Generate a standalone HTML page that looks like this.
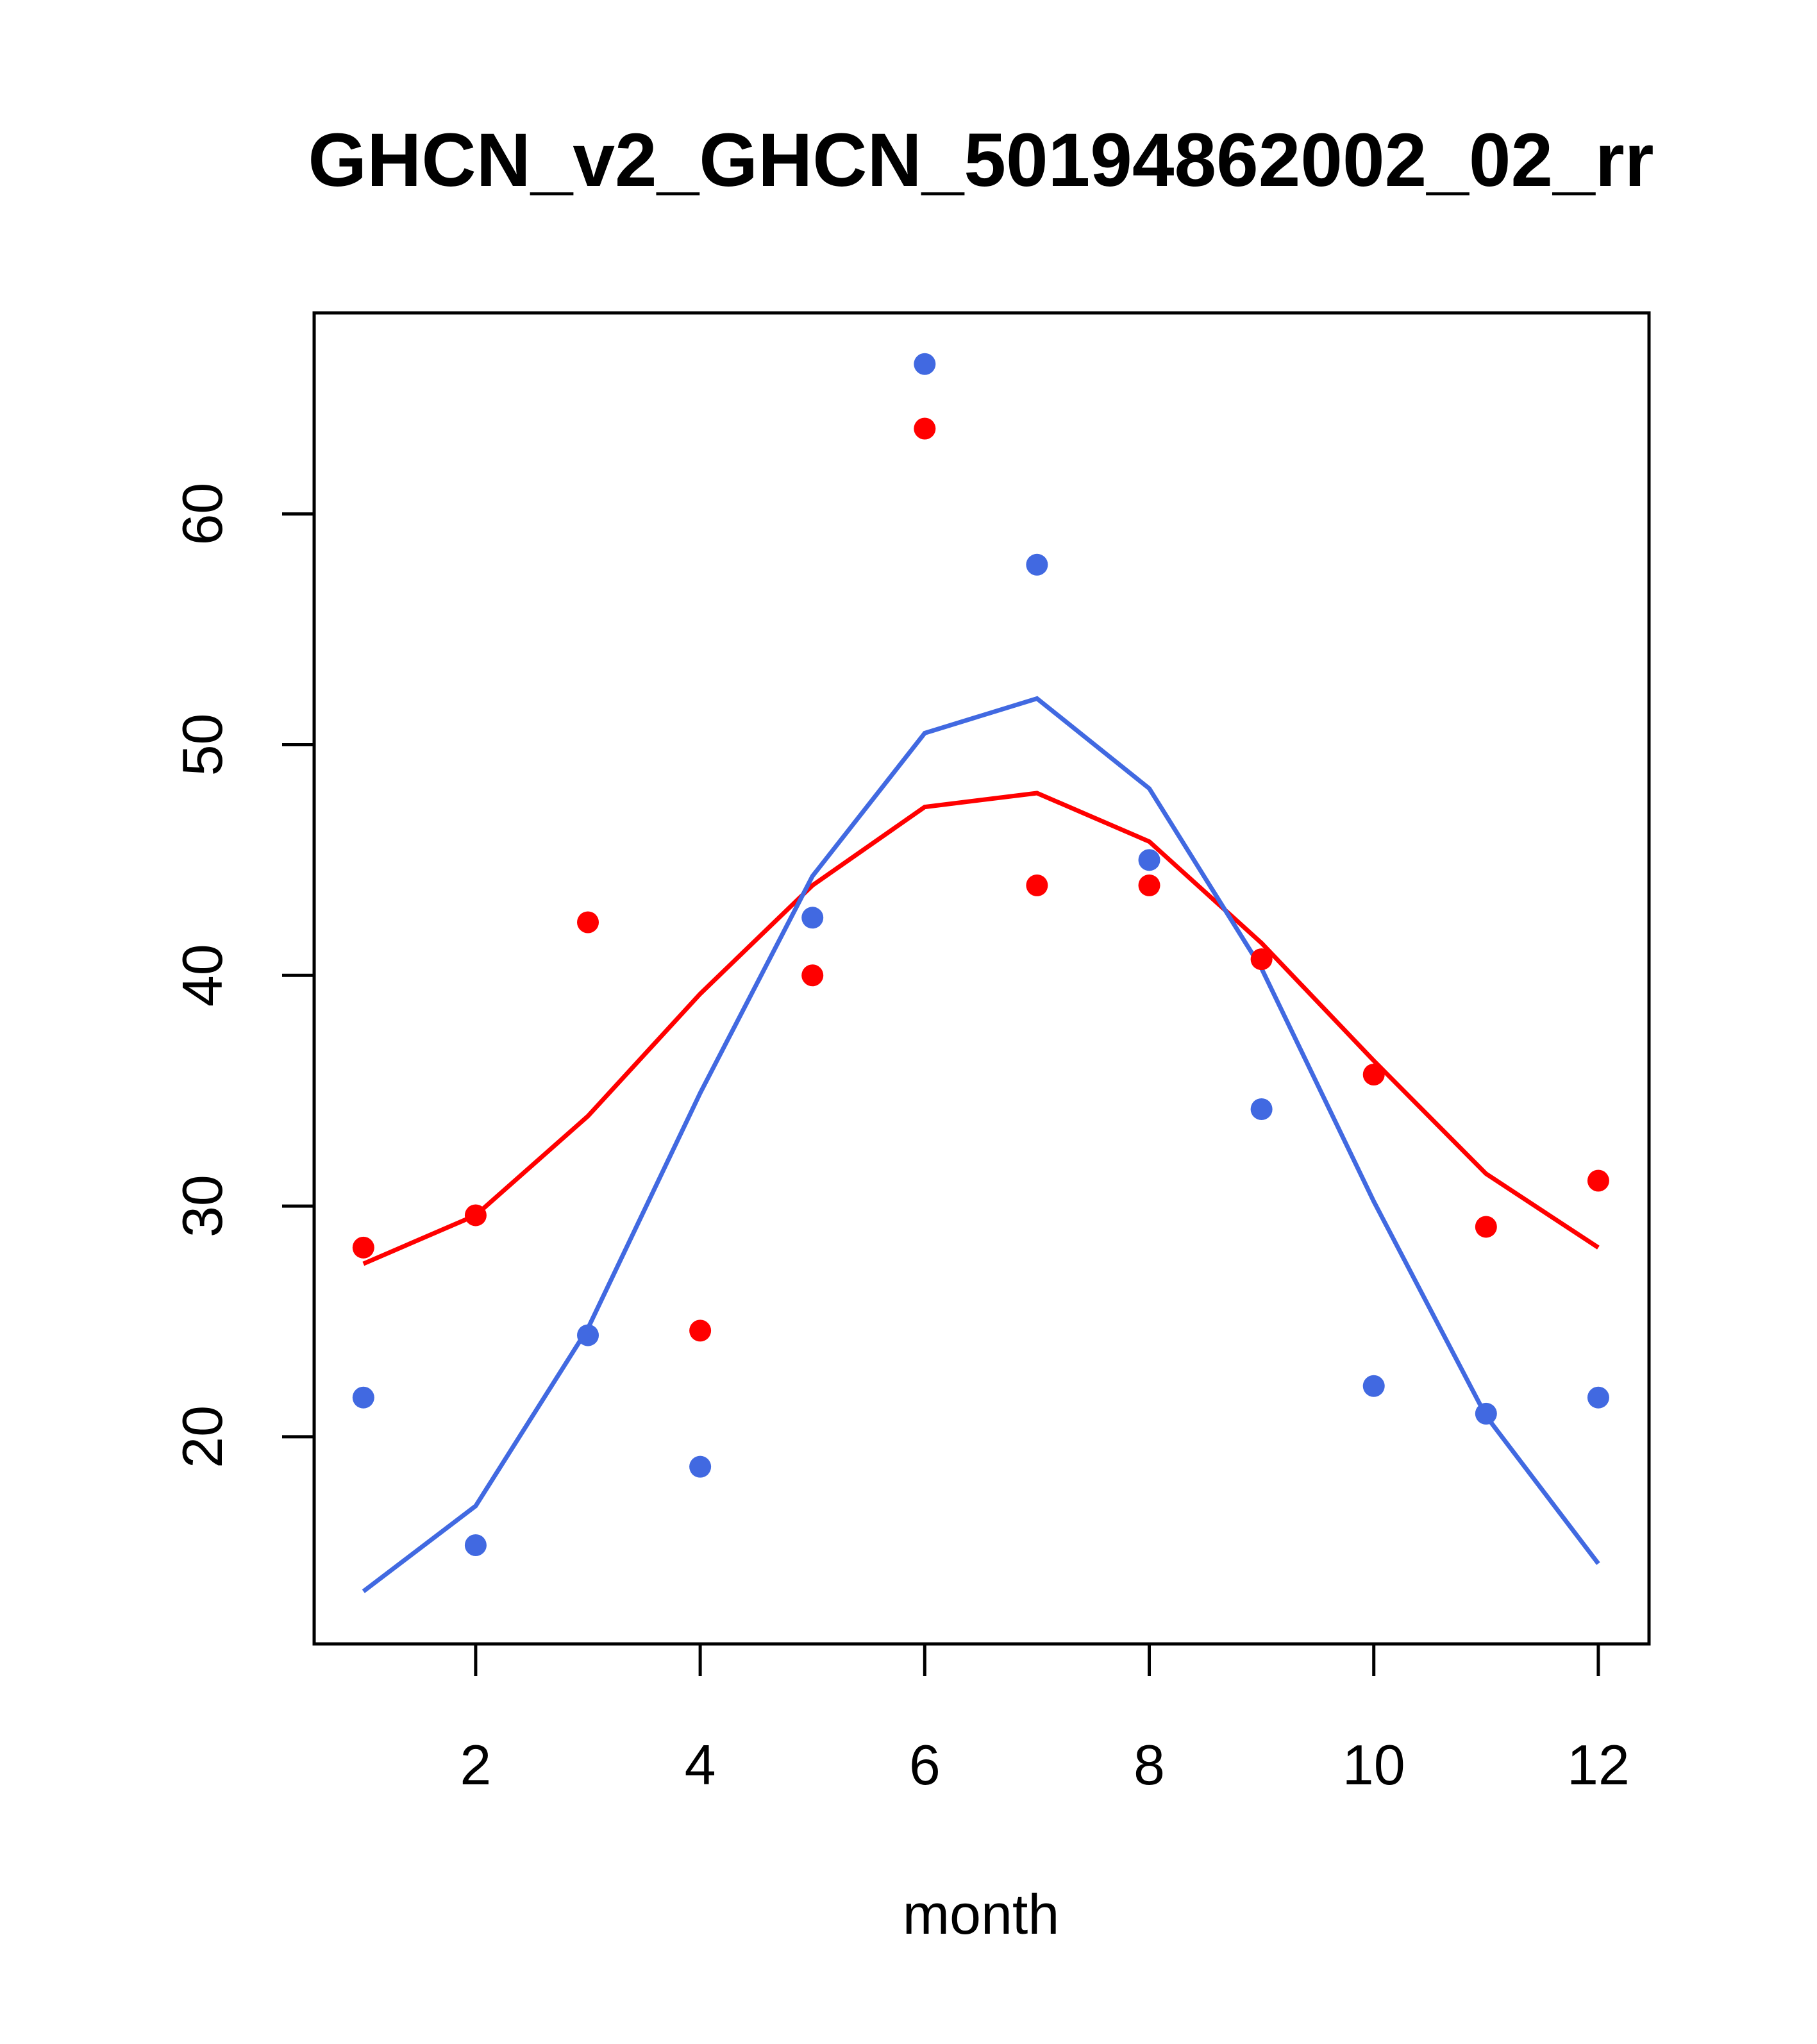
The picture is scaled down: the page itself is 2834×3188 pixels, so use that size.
<!DOCTYPE html>
<html><head><meta charset="utf-8"><style>
html,body{margin:0;padding:0;background:#fff}
svg{display:block;font-family:"Liberation Sans",sans-serif}
</style></head><body>
<svg id="chart" width="2834" height="3188" viewBox="0 0 2834 3188">
<text x="1530" y="290" text-anchor="middle" font-size="118" font-weight="bold">GHCN_v2_GHCN_50194862002_02_rr</text>
<rect x="490" y="488" width="2082" height="2076" fill="none" stroke="#000" stroke-width="5"/>
<g id="axes"></g>
<g id="series"></g>
<text x="1530" y="3016" text-anchor="middle" font-size="88">month</text>
</svg>
<script>
const months=[1,2,3,4,5,6,7,8,9,10,11,12];
const redPoints=[28.2,29.6,42.3,24.6,40.0,63.7,43.9,43.9,40.7,35.7,29.1,31.1];
const bluePoints=[21.7,15.3,24.4,18.7,42.5,66.5,57.8,45.0,34.2,22.2,21.0,21.7];
const redLine=[27.5,29.6,33.9,39.2,43.9,47.3,47.9,45.8,41.4,36.3,31.4,28.2];
const blueLine=[13.3,17.0,24.7,34.9,44.3,50.5,52.0,48.1,40.3,30.2,20.9,14.5];
const xTicks=[2,4,6,8,10,12];
const yTicks=[20,30,40,50,60];
const S=2.0243;
function xPx(m){return S*(280+(m-1)*86.5);}
function yPx(v){return S*(1107-(v-20)*17.775);}
const NS="http://www.w3.org/2000/svg";
const axes=document.getElementById('axes'),series=document.getElementById('series');
function mk(tag,attrs,parent){const e=document.createElementNS(NS,tag);for(const k in attrs)e.setAttribute(k,attrs[k]);parent.appendChild(e);return e;}
xTicks.forEach(t=>{
  const l=mk('line',{x1:xPx(t),x2:xPx(t),y1:2564,y2:2614,stroke:'#000','stroke-width':5},axes);
  
  
  const tx=mk('text',{x:xPx(t),y:2783,'text-anchor':'middle','font-size':88},axes);
  tx.textContent=t;
  
  
});
yTicks.forEach(t=>{
  const l=mk('line',{x1:440,x2:490,y1:yPx(t),y2:yPx(t),stroke:'#000','stroke-width':5},axes);
  
  
  const tx=mk('text',{x:0,y:0,'text-anchor':'middle','font-size':88,transform:`translate(346,${yPx(t)}) rotate(-90)`},axes);
  tx.textContent=t;
  
  
});
function line(vals,color,name){
  const p=mk('polyline',{points:vals.map((v,i)=>xPx(months[i])+','+yPx(v)).join(' '),fill:'none',stroke:color,'stroke-width':7},series);
  
  
}
function pts(vals,color,name){
  vals.forEach((v,i)=>{
    const c=mk('circle',{cx:xPx(months[i]),cy:yPx(v),r:17,fill:color},series);
    
    
  });
}
line(redLine,'#ff0000','red-line');
line(blueLine,'#4169e1','blue-line');
pts(redPoints,'#ff0000','red-point');
pts(bluePoints,'#4169e1','blue-point');
</script>
</body></html>
